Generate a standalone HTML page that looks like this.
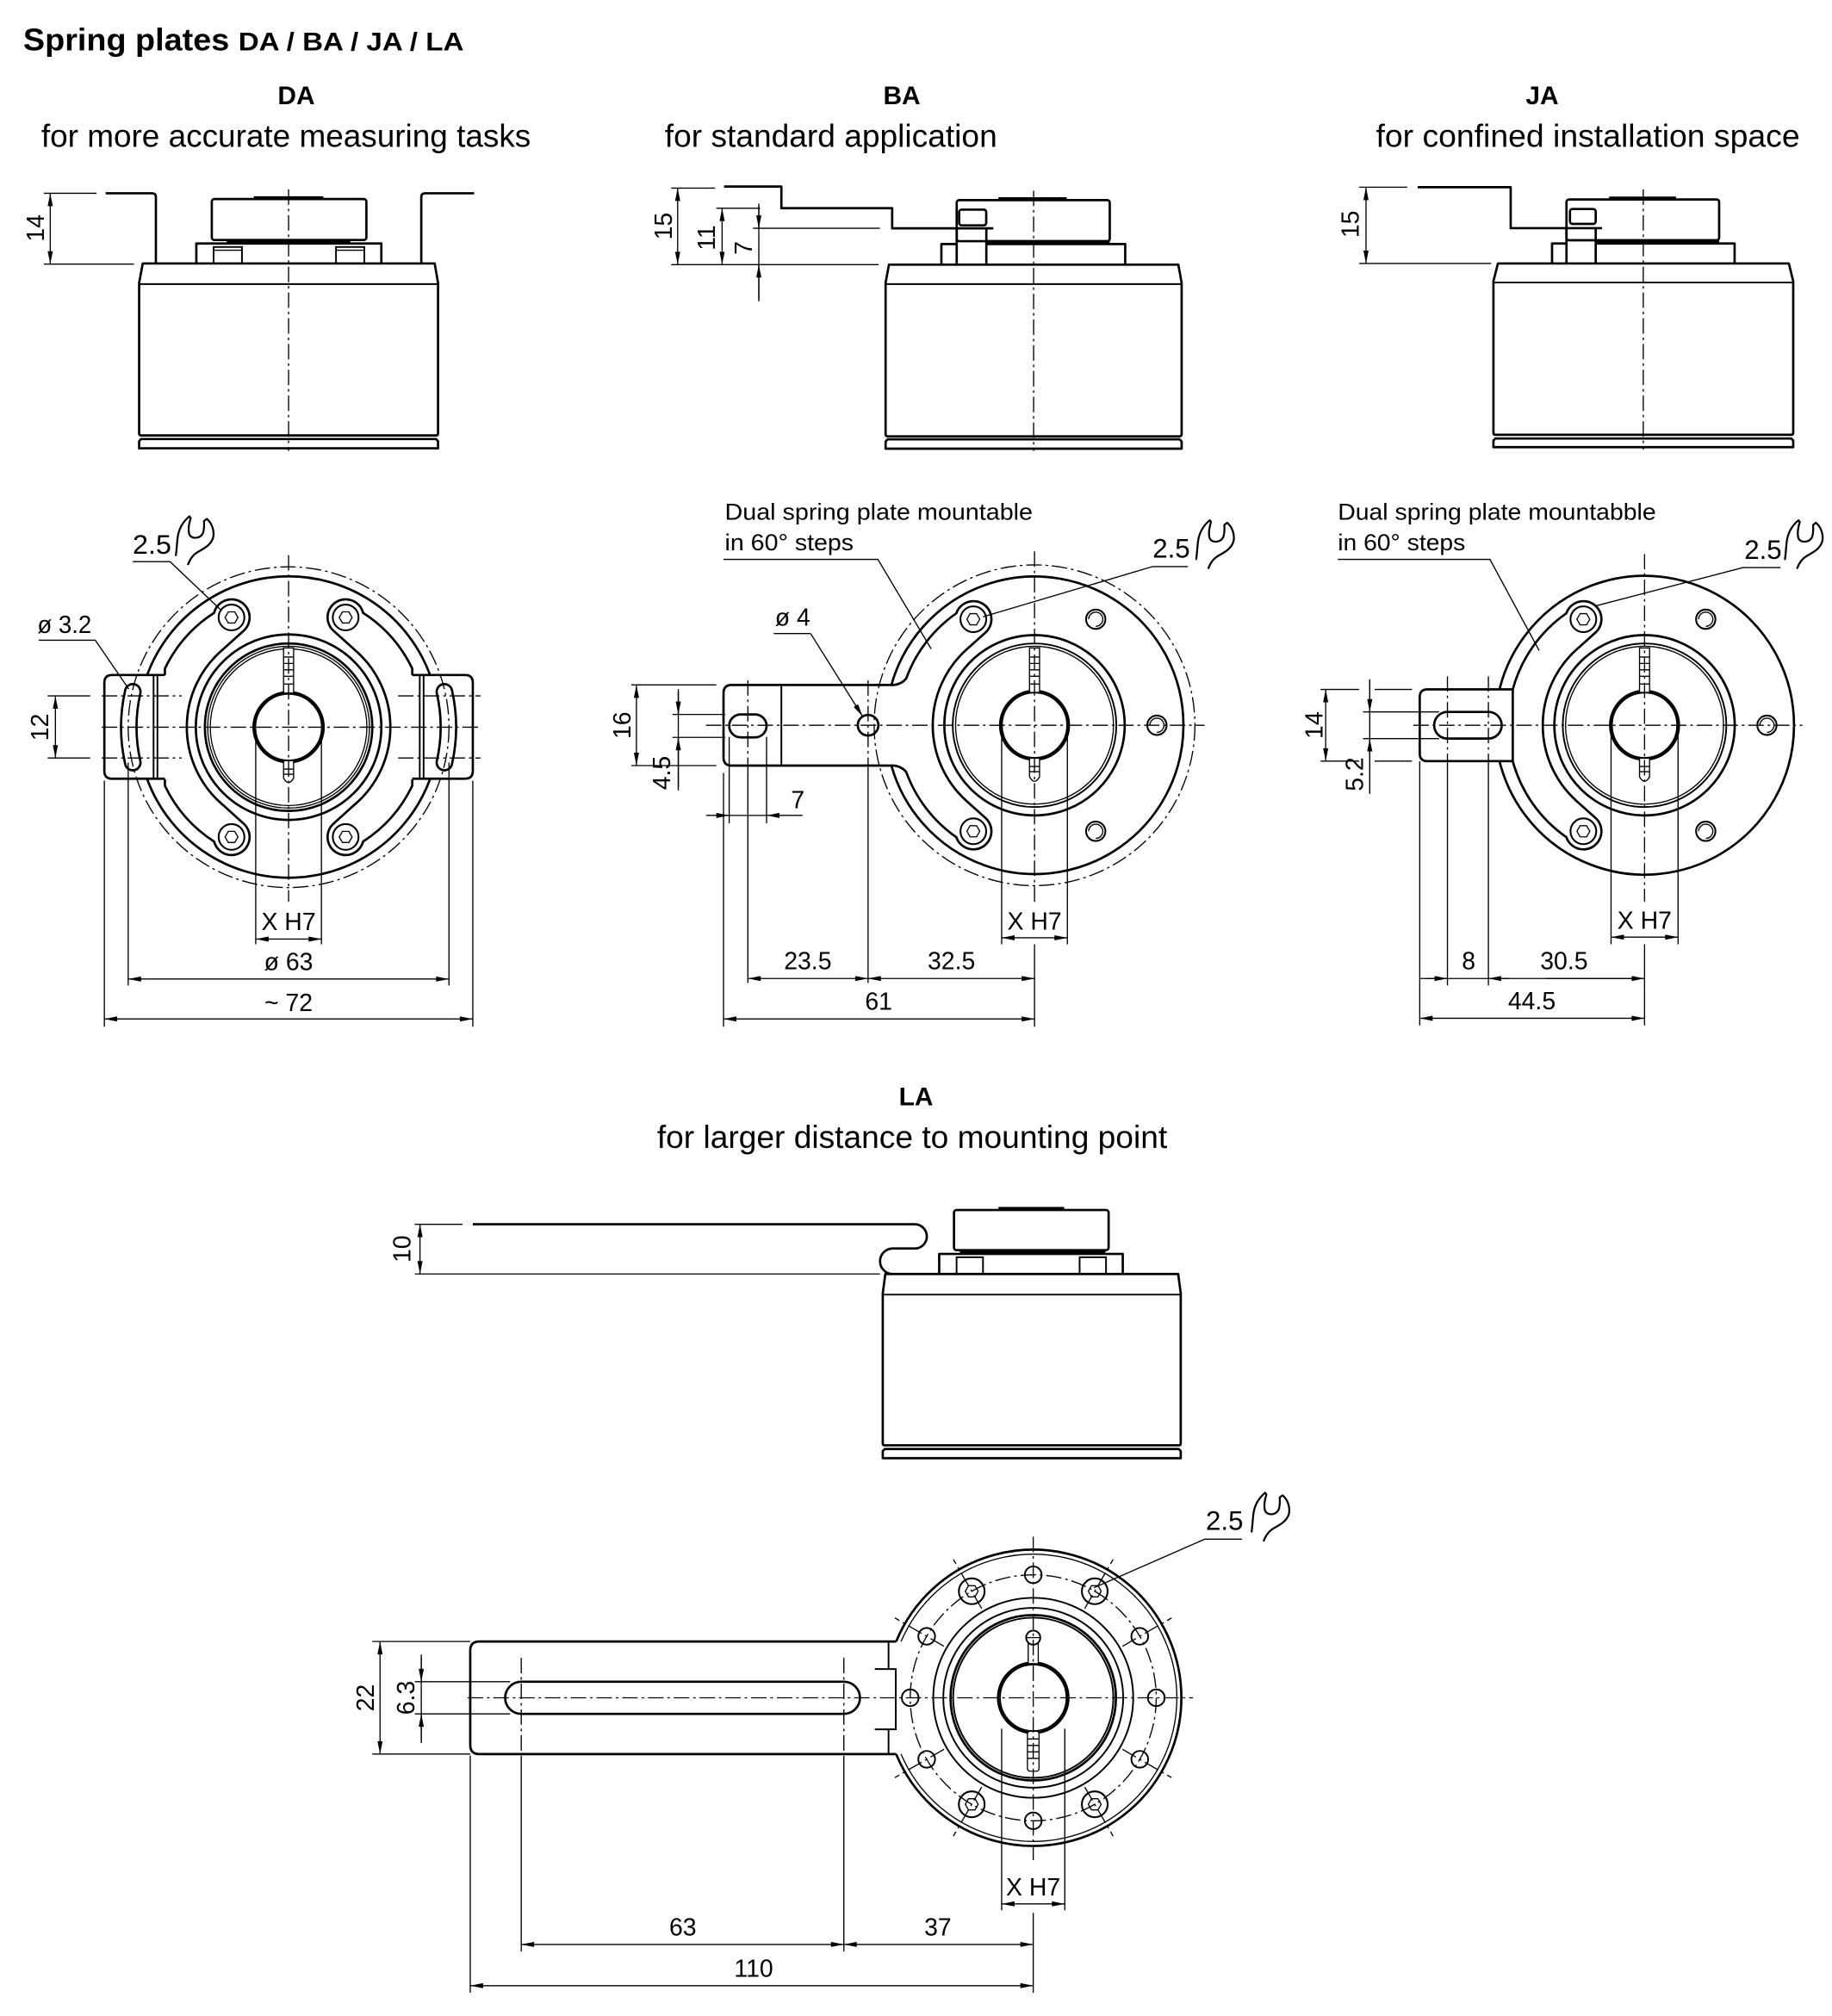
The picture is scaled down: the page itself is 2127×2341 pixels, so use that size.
<!DOCTYPE html>
<html><head><meta charset="utf-8">
<style>
html,body{margin:0;padding:0;background:#fff}
svg{display:block}
.k{stroke:#000;stroke-width:1.8;fill:none;stroke-linejoin:round}
.m{stroke:#000;stroke-width:1.3;fill:none}
.t{stroke:#000;stroke-width:0.9;fill:none}
.c{stroke:#000;stroke-width:0.9;fill:none;stroke-dasharray:12 3 2 3}
.w{fill:#fff}
.d{marker-start:url(#a);marker-end:url(#a)}
.e{marker-end:url(#a)}
text{font-family:"Liberation Sans",Arial,sans-serif;fill:#000}
.n{font-size:19px}
.h{font-size:20px;font-weight:bold}
.s{font-size:24.5px}
.q{font-size:18px}
.f{font-size:21px}
</style></head><body>
<svg width="2127" height="2341" viewBox="0 0 1422 1565" xmlns="http://www.w3.org/2000/svg">
<defs>
<marker id="a" viewBox="0 0 10 4" refX="10" refY="2" markerWidth="12" markerHeight="4" markerUnits="userSpaceOnUse" orient="auto-start-reverse"><path d="M0,0L10,2L0,4z" fill="#000"/></marker>
<path id="wr" d="M0.5,31C1,28 1.2,24 1.8,18C2.5,11 6,5 11,0.8L12,2.2C10.5,7 10,12 11,15C13,18.5 19,18.5 21.5,14C22.5,11 22.5,7 22.3,4.5L24.5,2.8C28.5,6 30.5,12 29.5,17C28,23 22,26 17.5,28.5C14,30.5 11.5,34 10,38" fill="none" stroke="#000" stroke-width="1.5" stroke-linejoin="round" stroke-linecap="round"/>
<g id="hx" fill="none" stroke="#000"><circle r="10" stroke-width="1.4"/><polygon stroke-width="0.9" points="5,0 2.5,4.33 -2.5,4.33 -5,0 -2.5,-4.33 2.5,-4.33"/></g>
<g id="ho" fill="none" stroke="#000"><circle r="7.5" stroke-width="1.4"/><path stroke-width="0.9" d="M-5.5,0A5.5,5.5 0 1,1 0,5.5"/></g>
<g id="h2" fill="none" stroke="#000"><circle r="6.5" stroke-width="1.3"/></g>
</defs>

<!-- Titles -->
<text x="18" y="39" font-weight="bold" font-size="24" textLength="160" lengthAdjust="spacingAndGlyphs">Spring plates</text>
<text x="185" y="39" font-weight="bold" font-size="20" textLength="175" lengthAdjust="spacingAndGlyphs">DA / BA / JA / LA</text>
<text class="h" x="230" y="81" text-anchor="middle">DA</text>
<text class="s" x="32" y="114" textLength="380" lengthAdjust="spacingAndGlyphs">for more accurate measuring tasks</text>
<text class="h" x="700" y="81" text-anchor="middle">BA</text>
<text class="s" x="516" y="114" textLength="258" lengthAdjust="spacingAndGlyphs">for standard application</text>
<text class="h" x="1197" y="81" text-anchor="middle">JA</text>
<text class="s" x="1068" y="114" textLength="329" lengthAdjust="spacingAndGlyphs">for confined installation space</text>
<text class="h" x="711" y="858" text-anchor="middle">LA</text>
<text class="s" x="510" y="891" textLength="396" lengthAdjust="spacingAndGlyphs">for larger distance to mounting point</text>

<!-- ===== DA top ===== -->
<path class="t" d="M34,150H75M34,205H104"/>
<path class="t d" d="M39,150V205"/>
<text class="n" transform="rotate(-90 34.2 177)" x="34.2" y="177" text-anchor="middle">14</text>
<path class="k" d="M82,150H118Q121,150 121,153V205M327,205V153Q327,150 330,150H368"/>
<rect class="k" x="164.4" y="154.5" width="120" height="31.8" rx="2"/>
<path class="k" d="M197,153.2H251"/>
<path stroke="#000" stroke-width="2.6" d="M176,187.4H272"/>
<path class="k" d="M152.4,204.5V189H296V204.5"/>
<rect class="m" x="165.8" y="191.7" width="22" height="12.8"/>
<path class="t" d="M165.8,194.2H187.8M260.8,194.2H282.8"/>
<rect class="m" x="260.8" y="191.7" width="22" height="12.8"/>
<path class="k" d="M110.8,204.5H337.4L340,219.5V336.5Q340,338 338.5,338H109.5Q108,338 108,336.5V219.5Z"/>
<path class="m" d="M108,220.5H340"/>
<path class="k" d="M109.5,340.8H338.5L340,342.5V348H108V342.5Z"/>
<path class="c" d="M224,147V350"/>

<!-- ===== DA bottom ===== -->
<circle class="c" cx="224" cy="564.5" r="124.5"/>
<path class="k" d="M114.2,524A117,117 0 0,1 333.8,524M333.9,604.5A117,117 0 0,1 114.1,604.5"/>
<g>
<path class="k" d="M128,524H87Q81,524 81,530V598.5Q81,604.5 87,604.5H128"/>
<path class="m" d="M119.2,524V604.5M122.2,524V604.5"/>
<path class="k" d="M97.2,535.7A130,130 0 0,0 97.2,593.3A6,6 0 0,0 108.9,590.6A118,118 0 0,1 108.9,538.4A6,6 0 0,0 97.2,535.7Z"/>
</g>
<g transform="matrix(-1,0,0,1,448,0)">
<path class="k" d="M128,524H87Q81,524 81,530V598.5Q81,604.5 87,604.5H128"/>
<path class="m" d="M119.2,524V604.5M122.2,524V604.5"/>
<path class="k" d="M97.2,535.7A130,130 0 0,0 97.2,593.3A6,6 0 0,0 108.9,590.6A118,118 0 0,1 108.9,538.4A6,6 0 0,0 97.2,535.7Z"/>
</g>
<path class="k" d="M128,524V519A106,106 0 0,1 166.2,475.7A14,14 0 1,1 188.7,490L173.2,504A79,79 0 0,0 145,564.5"/>
<path class="k" transform="matrix(-1,0,0,1,448,0)" d="M128,524V519A106,106 0 0,1 166.2,475.7A14,14 0 1,1 188.7,490L173.2,504A79,79 0 0,0 145,564.5"/>
<path class="k" transform="matrix(1,0,0,-1,0,1129)" d="M128,524V519A106,106 0 0,1 166.2,475.7A14,14 0 1,1 188.7,490L173.2,504A79,79 0 0,0 145,564.5"/>
<path class="k" transform="matrix(-1,0,0,-1,448,1129)" d="M128,524V519A106,106 0 0,1 166.2,475.7A14,14 0 1,1 188.7,490L173.2,504A79,79 0 0,0 145,564.5"/>
<circle class="k" cx="224" cy="564.5" r="72"/>
<circle class="k" cx="224" cy="564.5" r="65"/>
<circle class="t" cx="224" cy="564.5" r="62.8"/>
<circle class="t" cx="224" cy="564.5" r="60.8"/>
<circle class="k" cx="224" cy="564.5" r="27.2"/>
<circle class="m" cx="224" cy="564.5" r="25.8"/>
<rect class="t w" x="220.1" y="503" width="7.8" height="35"/>
<path class="t" d="M220.1,510H227.9M220.1,515H227.9M220.1,520H227.9M220.1,525H227.9M220.1,531H227.9"/>
<path class="t w" d="M220.1,591V604Q224,611 227.9,604V591"/>
<path class="t" d="M220.1,597H227.9M220.1,601H227.9"/>
<use href="#hx" x="179.7" y="479.3"/>
<use href="#hx" x="268.3" y="479.3"/>
<use href="#hx" x="179.7" y="649.7"/>
<use href="#hx" x="268.3" y="649.7"/>
<path class="c" d="M79,564.5H373M224,431V700"/>
<path class="t" d="M37,540.2H70M37,588.4H70"/>
<path class="c" d="M79,540.2H141M79,588.4H141M309,540.2H373M309,588.4H373"/>
<path class="t d" d="M43,540.2V588.4"/>
<text class="n" transform="rotate(-90 37.5 564.5)" x="37.5" y="564.5" text-anchor="middle">12</text>
<text class="n" x="29" y="491.5" textLength="42" lengthAdjust="spacingAndGlyphs">ø 3.2</text>
<path class="t" d="M30,497H74L100,535"/>
<text class="f" x="103" y="430" textLength="30" lengthAdjust="spacingAndGlyphs">2.5</text>
<path class="t" d="M103,436H132L172,474"/>
<use href="#wr" x="136" y="400"/>
<path class="t" d="M198.5,570V733M249.5,570V733"/>
<path class="t d" d="M198.5,729H249.5"/>
<text class="n" x="224" y="722" text-anchor="middle">X H7</text>
<path class="t" d="M99.5,592V765M348.5,592V765"/>
<path class="t d" d="M99.5,760H348.5"/>
<text class="n" x="224" y="753" text-anchor="middle">ø 63</text>
<path class="t" d="M81,606V797M367,606V797"/>
<path class="t d" d="M81,791H367"/>
<text class="n" x="224" y="785" text-anchor="middle">~ 72</text>

<!-- ===== BA top ===== -->
<path class="t" d="M521,146H555M521,205.4H682M556,161.6H590M584.5,177.2H683"/>
<path class="t d" d="M526,146V205.4"/>
<path class="t d" d="M560.5,161.6V205.4"/>
<path class="t" d="M589,158V234"/>
<path class="t e" d="M589,160V177.2"/>
<path class="t e" d="M589,232V205.4"/>
<text class="n" transform="rotate(-90 521.5 175.5)" x="521.5" y="175.5" text-anchor="middle">15</text>
<text class="n" transform="rotate(-90 555 184.5)" x="555" y="184.5" text-anchor="middle">11</text>
<text class="n" transform="rotate(-90 583.5 192.5)" x="583.5" y="192.5" text-anchor="middle">7</text>
<path class="k" d="M562,144.8H606.5V161.6H692.5V177.2H771"/>
<rect class="k" x="742.6" y="155.3" width="118.8" height="31.9" rx="2"/>
<path class="k" d="M775,154H828"/>
<rect class="k w" x="744.5" y="162.7" width="21" height="12.2" rx="2"/>
<path class="k" d="M742.6,205.4V177.2M765.6,177.2V205.4"/>
<path class="k" d="M730.7,205.4V189.4H742.6M765.6,189.4H873.4V205.4"/>
<path stroke="#000" stroke-width="2.6" d="M765.6,187.6H861.4"/>
<path class="k" d="M690,205.4H914.6L917.2,219.5V337Q917.2,338.7 915.5,338.7H689Q687.4,338.7 687.4,337V219.5Z"/>
<path class="m" d="M687.4,220.5H917.2"/>
<path class="k" d="M689,341H915.6L917.2,342.7V348.3H687.4V342.7Z"/>
<path class="c" d="M802.3,148V350"/>

<!-- ===== BA bottom ===== -->
<circle class="c" cx="803" cy="563" r="124.5"/>
<path class="k" d="M691.9,594.3A115.5,115.5 0 1,0 691.9,531.7"/>
<path class="k" d="M694,531.7Q700,531 703.4,526.7A106,106 0 0,1 742.3,476.1A14,14 0 1,1 764.5,491.4L750.1,504.3A79,79 0 0,0 724,563"/>
<path class="k" transform="matrix(1,0,0,-1,0,1126)" d="M694,531.7Q700,531 703.4,526.7A106,106 0 0,1 742.3,476.1A14,14 0 1,1 764.5,491.4L750.1,504.3A79,79 0 0,0 724,563"/>
<circle class="k" cx="803" cy="563" r="70"/>
<circle class="m" cx="803" cy="563" r="63.5"/>
<circle class="t" cx="803" cy="563" r="61.3"/>
<circle class="k" cx="803" cy="563" r="26.7"/>
<circle class="m" cx="803" cy="563" r="25.3"/>
<rect class="t w" x="799.1" y="503" width="7.8" height="34.5"/>
<path class="t" d="M799.1,510H806.9M799.1,515H806.9M799.1,520H806.9M799.1,525H806.9M799.1,531H806.9"/>
<path class="t w" d="M799.1,589V603Q803,610 806.9,603V589"/>
<path class="t" d="M799.1,595H806.9M799.1,599H806.9"/>
<use href="#hx" x="755.5" y="480.7"/>
<use href="#hx" x="755.5" y="645.3"/>
<use href="#ho" x="850.5" y="480.7"/>
<use href="#ho" x="898" y="563"/>
<use href="#ho" x="850.5" y="645.3"/>
<path class="k" d="M694,531.7H568Q561.6,531.7 561.6,538V588Q561.6,594.3 568,594.3H694"/>
<path class="m" d="M606.5,531.7V594.3"/>
<rect class="k" x="566" y="554.6" width="29" height="17.8" rx="8.9"/>
<circle class="k" cx="673.8" cy="563" r="8"/>
<path class="c" d="M548,563H935M803,428V700"/>
<path class="t" d="M490,531.7H556M490,594.3H556"/>
<path class="t d" d="M494,531.7V594.3"/>
<text class="n" transform="rotate(-90 489.5 563)" x="489.5" y="563" text-anchor="middle">16</text>
<path class="t" d="M522,554.6H563M522,572.4H563M526.5,535V613.6"/>
<path class="t e" d="M526.5,537V554.6"/>
<path class="t e" d="M526.5,611V572.4"/>
<text class="n" transform="rotate(-90 520 600)" x="520" y="600" text-anchor="middle">4.5</text>
<path class="t" d="M566,572V639M595,572V639M548,633H623"/>
<path class="t e" d="M549,633H566"/>
<path class="t e" d="M622,633H595"/>
<text class="n" x="614" y="627.5">7</text>
<text class="n" x="601.5" y="485.6">ø 4</text>
<path class="t" d="M600.6,491.8H629.2"/>
<path class="t e" d="M629.2,491.8L669.6,556.2"/>
<text class="q" x="562.6" y="403.6" textLength="239" lengthAdjust="spacingAndGlyphs">Dual spring plate mountable</text>
<text class="q" x="562.6" y="427.2" textLength="100" lengthAdjust="spacingAndGlyphs">in 60° steps</text>
<path class="t" d="M561.6,434.2H681.4L722.8,503.7"/>
<text class="f" x="894.7" y="432.8" textLength="29" lengthAdjust="spacingAndGlyphs">2.5</text>
<path class="t" d="M922,439.8H894.7L763,478.8"/>
<use href="#wr" x="928" y="403"/>
<path class="t" d="M777.5,570V733M828.5,570V733"/>
<path class="t d" d="M777.5,728H828.5"/>
<text class="n" x="803" y="721.5" text-anchor="middle">X H7</text>
<path class="c" d="M580.5,528V600M673.8,528V600"/>
<path class="t" d="M580.5,600V763M673.8,600V763"/>
<path class="t d" d="M580.5,759.6H673.8"/>
<path class="t d" d="M673.8,759.6H803"/>
<text class="n" x="627" y="752.5" text-anchor="middle">23.5</text>
<text class="n" x="738.5" y="752.5" text-anchor="middle">32.5</text>
<path class="t" d="M561.6,600V797M803,733V797"/>
<path class="t d" d="M561.6,791H803"/>
<text class="n" x="682" y="784" text-anchor="middle">61</text>

<!-- ===== JA top ===== -->
<path class="t" d="M1055,145.3H1092.4M1055,204.5H1157.4"/>
<path class="t d" d="M1060.3,145.3V204.5"/>
<text class="n" transform="rotate(-90 1054.5 174)" x="1054.5" y="174" text-anchor="middle">15</text>
<path class="k" d="M1100.4,145.3H1172.6V177.1H1243.5"/>
<rect class="k" x="1215.9" y="154.8" width="118.5" height="31.7" rx="2"/>
<path class="k" d="M1249,153.5H1301"/>
<rect class="k w" x="1218.6" y="162.2" width="20" height="11.6" rx="2"/>
<path class="k" d="M1215.9,204.5V177.1M1238.6,177.1V204.5"/>
<path class="k" d="M1204.7,204.5V189H1215.9M1238.6,189H1346.4V204.5"/>
<path stroke="#000" stroke-width="2.6" d="M1238.6,187.3H1334.4"/>
<path class="k" d="M1162.7,204.5H1388.5L1391.9,218.3V336Q1391.9,337.5 1390.4,337.5H1160.7Q1159.2,337.5 1159.2,336V218.3Z"/>
<path class="m" d="M1159.2,219.3H1391.9"/>
<path class="k" d="M1160.7,340.4H1390.4L1391.9,342V347.1H1159.2V342Z"/>
<path class="c" d="M1275.5,147V349"/>

<!-- ===== JA bottom ===== -->
<path class="k" d="M1163.9,590.85A116,116 0 1,0 1163.9,535.15"/>
<path class="k" d="M1174.2,535.15A106,106 0 0,1 1215.8,476.1A14,14 0 1,1 1238,491.4L1223.6,504.3A79,79 0 0,0 1197.5,563"/>
<path class="k" transform="matrix(1,0,0,-1,0,1126)" d="M1174.2,535.15A106,106 0 0,1 1215.8,476.1A14,14 0 1,1 1238,491.4L1223.6,504.3A79,79 0 0,0 1197.5,563"/>
<circle class="k" cx="1276.5" cy="563" r="70"/>
<circle class="m" cx="1276.5" cy="563" r="63.5"/>
<circle class="t" cx="1276.5" cy="563" r="61.3"/>
<circle class="k" cx="1276.5" cy="563" r="26.7"/>
<circle class="m" cx="1276.5" cy="563" r="25.3"/>
<rect class="t w" x="1272.6" y="503" width="7.8" height="34.5"/>
<path class="t" d="M1272.6,510H1280.4M1272.6,515H1280.4M1272.6,520H1280.4M1272.6,525H1280.4M1272.6,531H1280.4"/>
<path class="t w" d="M1272.6,589V603Q1276.5,610 1280.4,603V589"/>
<path class="t" d="M1272.6,595H1280.4M1272.6,599H1280.4"/>
<use href="#hx" x="1229" y="480.7"/>
<use href="#hx" x="1229" y="645.3"/>
<use href="#ho" x="1324" y="480.7"/>
<use href="#ho" x="1371.5" y="563"/>
<use href="#ho" x="1324" y="645.3"/>
<path class="k" d="M1174.2,535.15H1108Q1102,535.15 1102,541V585Q1102,590.85 1108,590.85H1174.2V535.15"/>
<rect class="k" x="1113.2" y="552.65" width="52.4" height="20.7" rx="10.35"/>
<path class="c" d="M1123.5,525V595M1155.3,525V595"/>
<path class="t" d="M1123.5,595V765M1155.3,595V765M1102,591V796M1276.5,733V796"/>
<path class="c" d="M1097,563H1399M1276.5,430V700"/>
<path class="t" d="M1025,535.15H1055M1067,535.15H1096M1025,590.85H1055M1067,590.85H1096"/>
<path class="t d" d="M1029,535.15V590.85"/>
<text class="n" transform="rotate(-90 1026.5 563)" x="1026.5" y="563" text-anchor="middle">14</text>
<path class="t" d="M1058,552.65H1117M1058,573.35H1117M1063.2,527.4V616.3"/>
<path class="t e" d="M1063.2,530V552.65"/>
<path class="t e" d="M1063.2,614V573.35"/>
<text class="n" transform="rotate(-90 1058 601)" x="1058" y="601" text-anchor="middle">5.2</text>
<path class="t" d="M1102,759.6H1276.5"/>
<path class="t e" d="M1108,759.6H1123.5"/>
<path class="t e" d="M1172,759.6H1155.3"/>
<path class="t e" d="M1200,759.6H1276.5"/>
<text class="n" x="1140" y="752.5" text-anchor="middle">8</text>
<text class="n" x="1214" y="752.5" text-anchor="middle">30.5</text>
<path class="t d" d="M1102,790.5H1276.5"/>
<text class="n" x="1189" y="783.5" text-anchor="middle">44.5</text>
<path class="t" d="M1250.5,570V733M1302.5,570V733"/>
<path class="t d" d="M1250.5,727.5H1302.5"/>
<text class="n" x="1276.5" y="721" text-anchor="middle">X H7</text>
<text class="q" x="1038.4" y="403.6" textLength="247" lengthAdjust="spacingAndGlyphs">Dual spring plate mountabble</text>
<text class="q" x="1038.4" y="427.2" textLength="99" lengthAdjust="spacingAndGlyphs">in 60° steps</text>
<path class="t" d="M1038.4,434.2H1156.5L1194.7,505"/>
<text class="f" x="1354" y="434" textLength="29" lengthAdjust="spacingAndGlyphs">2.5</text>
<path class="t" d="M1382,440.6H1353L1238.3,470.4"/>
<use href="#wr" x="1385" y="403"/>

<!-- ===== LA top ===== -->
<path class="t" d="M322,950.4H359M322,989H683"/>
<path class="t d" d="M326,950.4V989"/>
<text class="n" transform="rotate(-90 318.5 969.5)" x="318.5" y="969.5" text-anchor="middle">10</text>
<path class="k" d="M367,950.4H710A9.4,9.4 0 0,1 710,969.2H693A9.9,9.9 0 0,0 693,989"/>
<rect class="k" x="740.5" y="939.3" width="120" height="31.2" rx="2"/>
<path class="k" d="M775,937.8H826"/>
<path stroke="#000" stroke-width="2.6" d="M745,971.6H858"/>
<path class="k" d="M729,989V973.4H871.5V989"/>
<rect class="m" x="742.5" y="976" width="20.5" height="13"/>
<rect class="m" x="838" y="976" width="20.5" height="13"/>
<path class="k" d="M687.2,989H914.5L916.5,1004V1120.5Q916.5,1122 915,1122H686.7Q685.2,1122 685.2,1120.5V1004Z"/>
<path class="m" d="M685.2,1005H916.5"/>
<path class="k" d="M686.7,1124.9H915L916.5,1126.5V1132H685.2V1126.5Z"/>

<!-- ===== LA bottom ===== -->
<g transform="translate(0,-3)">
<path class="k" d="M695.6,1364.7A115,115 0 1,0 695.6,1277.3"/>
<path class="t" d="M699.4,1364.7A111.5,111.5 0 1,0 699.4,1277.3"/>
<circle class="c" cx="802" cy="1321" r="95.5"/>
<path class="c" d="M871.3,1361L909.4,1383M842,1390.3L864,1428.4M762,1390.3L740,1428.4M732.7,1361L694.6,1383M732.7,1281L694.6,1259M762,1251.7L740,1213.6M842,1251.7L864,1213.6M871.3,1281L909.4,1259"/>
<circle class="m" cx="802" cy="1321" r="77.6"/>
<circle class="m" cx="802" cy="1321" r="69.8"/>
<circle class="k" cx="802" cy="1321" r="64.2"/>
<circle class="m" cx="802" cy="1321" r="62.2"/>
<circle class="k" cx="802" cy="1321" r="27.3"/>
<circle class="m" cx="802" cy="1321" r="25.8"/>
<rect class="t w" x="798.1" y="1278" width="7.8" height="16.5"/>
<circle class="m w" cx="802" cy="1274.3" r="5.5"/>
<path class="t" d="M796.5,1274.3H807.5"/>
<rect class="t w" x="797.5" y="1347" width="9" height="31" rx="2"/>
<path class="t" d="M797.5,1353H806.5M797.5,1358H806.5M797.5,1363H806.5M797.5,1368H806.5"/>
<use href="#hx" x="849.75" y="1403.7"/>
<use href="#hx" x="754.25" y="1403.7"/>
<use href="#hx" x="754.25" y="1238.3"/>
<use href="#hx" x="849.75" y="1238.3"/>
<use href="#h2" x="897.5" y="1321"/>
<use href="#h2" x="884.7" y="1368.75"/>
<use href="#h2" x="802" y="1416.5"/>
<use href="#h2" x="719.3" y="1368.75"/>
<use href="#h2" x="706.5" y="1321"/>
<use href="#h2" x="719.3" y="1273.25"/>
<use href="#h2" x="802" y="1225.5"/>
<use href="#h2" x="884.7" y="1273.25"/>
<path class="k" d="M695.6,1277.3H372Q365,1277.3 365,1284.3V1357.7Q365,1364.7 372,1364.7H695.6"/>
<path class="m" d="M689.7,1277.3V1298.7M689.7,1345.5V1364.7M679,1298.7H695.3V1345.5H679"/>
<rect class="k" x="392.1" y="1308.5" width="275.4" height="25" rx="12.5"/>
<path class="c" d="M404.6,1290V1364M655,1290V1364"/>
<path class="t" d="M404.6,1366V1518M655,1366V1518M365,1366V1550M802,1488V1550"/>
<path class="c" d="M363,1321H926M802,1196V1447"/>
<path class="t" d="M289,1277.3H365M289,1364.7H365"/>
<path class="t d" d="M295,1277.3V1364.7"/>
<text class="n" transform="rotate(-90 290 1321)" x="290" y="1321" text-anchor="middle">22</text>
<path class="t" d="M322,1308.5H396M322,1333.5H396M327,1287.4V1356.1"/>
<path class="t e" d="M327,1290V1308.5"/>
<path class="t e" d="M327,1354V1333.5"/>
<text class="n" transform="rotate(-90 321.5 1321)" x="321.5" y="1321" text-anchor="middle">6.3</text>
<path class="t d" d="M404.6,1512.5H655"/>
<path class="t d" d="M655,1512.5H802"/>
<text class="n" x="530" y="1505.5" text-anchor="middle">63</text>
<text class="n" x="728" y="1505.5" text-anchor="middle">37</text>
<path class="t d" d="M365,1544.5H802"/>
<text class="n" x="585" y="1537.5" text-anchor="middle">110</text>
<path class="t" d="M777.5,1345V1486M826.5,1345V1486"/>
<path class="t d" d="M777.5,1481H826.5"/>
<text class="n" x="802" y="1474.5" text-anchor="middle">X H7</text>
<text class="f" x="936" y="1190.5" textLength="29" lengthAdjust="spacingAndGlyphs">2.5</text>
<path class="t" d="M964,1197.9H935L849,1235.6"/>
<use href="#wr" x="971" y="1161"/>
</g>
</svg>
</body></html>
